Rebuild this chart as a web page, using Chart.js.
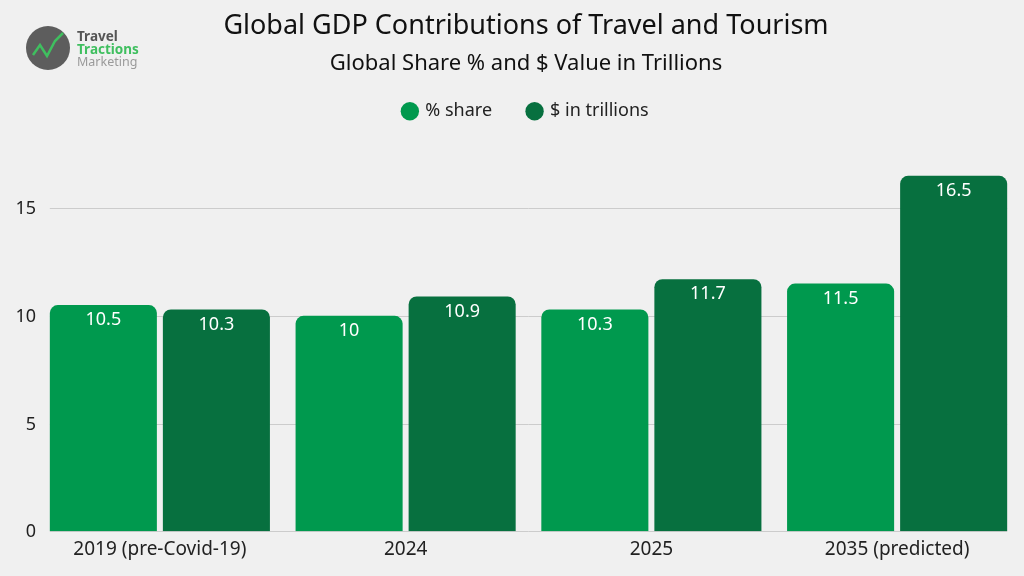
<!DOCTYPE html>
<html>
<head>
<meta charset="utf-8">
<script src="https://cdn.jsdelivr.net/npm/chart.js@4.4.1/dist/chart.umd.min.js"></script>
<style>
  html, body { margin: 0; padding: 0; background: #f0f0f0; }
  #wrap { width: 1024px; height: 576px; position: relative; }
</style>
</head>
<body>
<div id="wrap"><canvas id="gdpChart"></canvas></div>
<script>
// data
const categorias = ['2019 (pre-Covid-19)', '2024', '2025', '2035 (predicted)'];
const shareValores = [10.5, 10, 10.3, 11.5];
const trilhoesValores = [10.3, 10.9, 11.7, 16.5];
const yTicks = [0, 5, 10, 15];

const verdeClaro = '#00994e';
const verdeEscuro = '#07703f';
const fonte = "'Noto Sans', 'Open Sans', sans-serif";

// grid lines only across the bars + y tick labels (Chart.js clips its own ones here)
const gradePlugin = {
  id: 'grade',
  beforeDatasetsDraw(chart) {
    const c = chart.ctx;
    const y = chart.scales.y;
    const primeira = chart.getDatasetMeta(0).data[0];
    const ultima = chart.getDatasetMeta(1).data[categorias.length - 1];
    const x0 = primeira.x - primeira.width / 2;
    const x1 = ultima.x + ultima.width / 2;
    c.save();
    c.strokeStyle = '#cccccc';
    c.lineWidth = 1;
    c.fillStyle = '#222222';
    c.font = '18px ' + fonte;
    c.textAlign = 'right';
    c.textBaseline = 'middle';
    yTicks.forEach(v => {
      const py = Math.round(y.getPixelForValue(v)) + 0.5;
      c.beginPath();
      c.moveTo(x0, py);
      c.lineTo(x1, py);
      c.stroke();
      c.fillText(String(v), chart.chartArea.left - 1, py);
    });
    c.restore();
  }
};

// white value labels inside the bar tops
const rotulosPlugin = {
  id: 'rotulos',
  afterDatasetsDraw(chart) {
    const c = chart.ctx;
    c.save();
    c.fillStyle = '#ffffff';
    c.font = '18px ' + fonte;
    c.textAlign = 'center';
    c.textBaseline = 'top';
    chart.data.datasets.forEach((ds, i) => {
      chart.getDatasetMeta(i).data.forEach((bar, j) => {
        c.fillText(String(ds.data[j]), bar.x, bar.y + 6);
      });
    });
    c.restore();
  }
};

// logo in the top left corner
const logoPlugin = {
  id: 'logo',
  afterDraw(chart) {
    const c = chart.ctx;
    c.save();
    c.fillStyle = '#5d5d5d';
    c.beginPath();
    c.arc(48, 48, 22, 0, Math.PI * 2);
    c.fill();
    c.strokeStyle = '#3fbf5f';
    c.lineWidth = 2.5;
    c.beginPath();
    c.moveTo(33, 55); c.lineTo(40, 45); c.lineTo(47, 56); c.lineTo(55, 41); c.lineTo(63, 33);
    c.stroke();
    c.textAlign = 'left';
    c.textBaseline = 'alphabetic';
    c.font = 'bold 13.5px ' + fonte;
    c.fillStyle = '#555555';
    c.fillText('Travel', 77, 41);
    c.fillStyle = '#3fbf5f';
    c.fillText('Tractions', 77, 54);
    c.font = '12.5px ' + fonte;
    c.fillStyle = '#9a9a9a';
    c.fillText('Marketing', 77, 66);
    c.restore();
  }
};

const ctx = document.getElementById('gdpChart').getContext('2d');

new Chart(ctx, {
  type: 'bar',
  data: {
    labels: categorias,
    datasets: [
      {
        label: '% share',
        data: shareValores,
        backgroundColor: verdeClaro,
        borderRadius: { topLeft: 8, topRight: 8 },
        borderSkipped: 'bottom',
        barPercentage: 0.947,
        categoryPercentage: 0.92
      },
      {
        label: '$ in trillions',
        data: trilhoesValores,
        backgroundColor: verdeEscuro,
        borderRadius: { topLeft: 8, topRight: 8 },
        borderSkipped: 'bottom',
        barPercentage: 0.947,
        categoryPercentage: 0.92
      }
    ]
  },
  options: {
    responsive: true,
    maintainAspectRatio: false,
    animation: false,
    layout: { padding: { top: 0, left: 32, right: 4, bottom: 8 } },
    plugins: {
      title: {
        display: true,
        text: 'Global GDP Contributions of Travel and Tourism',
        color: '#111111',
        font: { family: fonte, size: 27, weight: 'normal' },
        padding: { top: 10, bottom: 4 }
      },
      subtitle: {
        display: true,
        text: 'Global Share % and $ Value in Trillions',
        color: '#111111',
        font: { family: fonte, size: 22, weight: 'normal' },
        padding: { top: 4.4, bottom: -11 }
      },
      legend: {
        display: true,
        labels: {
          usePointStyle: true,
          pointStyle: 'circle',
          boxWidth: 13,
          boxHeight: 13,
          padding: 36,
          color: '#222222',
          font: { family: fonte, size: 18 }
        }
      },
      tooltip: { enabled: false }
    },
    scales: {
      x: {
        grid: { display: false, drawTicks: false },
        border: { display: false },
        ticks: { color: '#222222', font: { family: fonte, size: 19 }, padding: 7 }
      },
      y: {
        min: 0,
        max: 18.62,
        afterBuildTicks: scale => {
          scale.ticks = yTicks.map(v => ({ value: v }));
        },
        afterFit: scale => {
          scale.width = 5;
        },
        grid: { display: false, drawTicks: false },
        border: { display: false },
        ticks: { display: false }
      }
    }
  },
  plugins: [gradePlugin, rotulosPlugin, logoPlugin]
});
</script>
</body>
</html>
